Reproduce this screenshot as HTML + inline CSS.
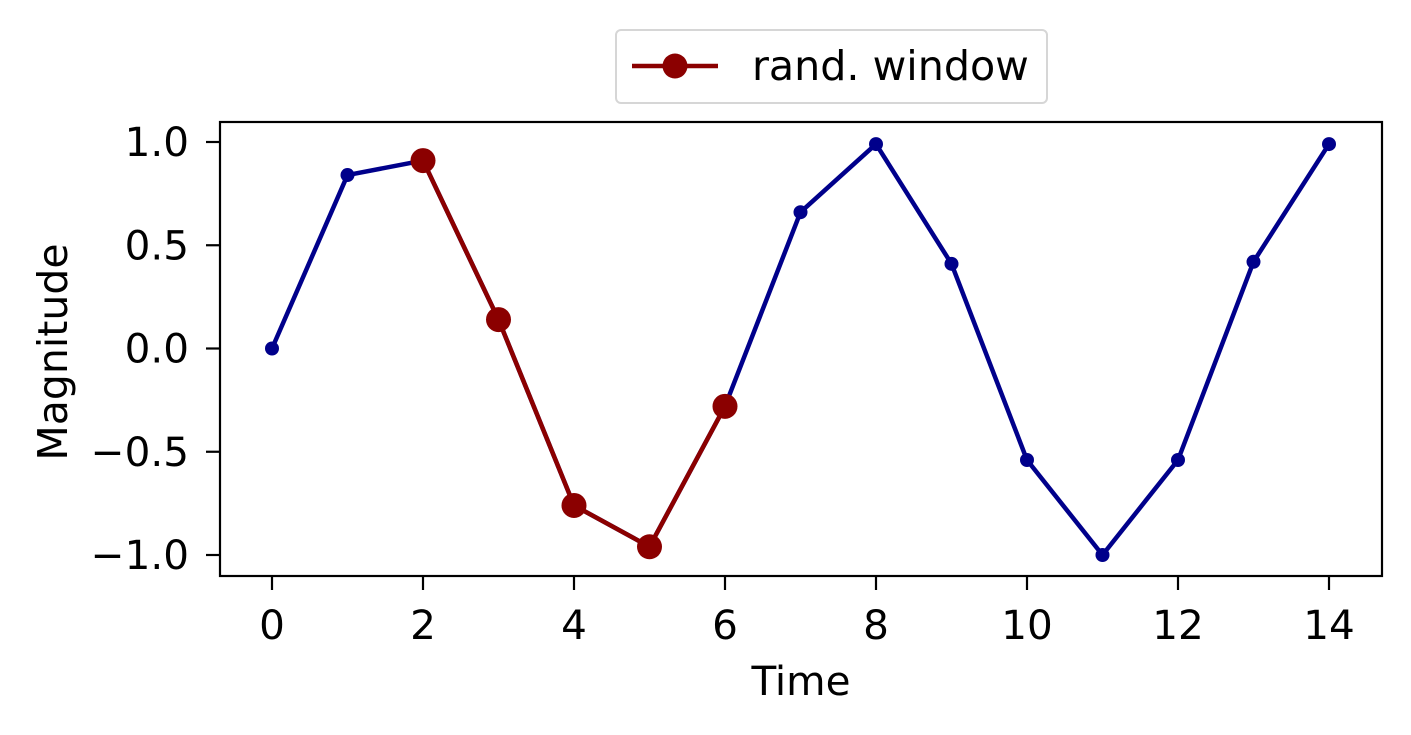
<!DOCTYPE html>
<html><head><meta charset="utf-8"><style>
html,body{margin:0;padding:0;background:#fff;}
svg{display:block;font-family:"DejaVu Sans","Liberation Sans",sans-serif;}
</style></head><body>
<svg id="chart" width="1411" height="735" viewBox="0 0 1411 735">
</svg>
<script>
const times = [0,1,2,3,4,5,6,7,8,9,10,11,12,13,14];
const magnitude = [0,0.84,0.91,0.14,-0.76,-0.96,-0.28,0.66,0.99,0.41,-0.54,-1.0,-0.54,0.42,0.99];
const windowIdx = [2,3,4,5,6];
const xTicks = [0,2,4,6,8,10,12,14];
const yTicks = [1.0,0.5,0.0,-0.5,-1.0];
const yTickLabels = ["1.0","0.5","0.0","\u22120.5","\u22121.0"];

const svg = document.getElementById('chart');
const NS = 'http://www.w3.org/2000/svg';
const L=220,R=1382,T=122,B=576;
const x = v => 272 + v*75.5;
const y = v => 348.5 - v*206.5;
function mk(tag, attrs, parent){const e=document.createElementNS(NS,tag);for(const k in attrs)e.setAttribute(k,attrs[k]);(parent||svg).appendChild(e);return e;}

let frame = mk('rect',{x:L,y:T,width:R-L,height:B-T,fill:'none',stroke:'#000','stroke-width':2.2});



xTicks.forEach(t=>{
  const tk=mk('line',{x1:x(t),x2:x(t),y1:B,y2:B+14,stroke:'#000','stroke-width':2.2});
  
  
  const lb=mk('text',{x:x(t),y:B+63,'text-anchor':'middle','font-size':40.5});
  lb.textContent=t;
  
  
});
yTicks.forEach((t,i)=>{
  const tk=mk('line',{x1:L-14,x2:L,y1:y(t),y2:y(t),stroke:'#000','stroke-width':2.2});
  
  
  const lb=mk('text',{x:L-31,y:y(t)+14,'text-anchor':'end','font-size':40.5});
  lb.textContent=yTickLabels[i];
  
  
});
let xt=mk('text',{x:801,y:695,'text-anchor':'middle','font-size':40.5});xt.textContent='Time';


let yt=mk('text',{x:0,y:0,'text-anchor':'middle','font-size':41,transform:'translate(67,352) rotate(-90)'});yt.textContent='Magnitude';



let pl=mk('polyline',{points:times.map((t,i)=>x(t)+','+y(magnitude[i])).join(' '),fill:'none',stroke:'#00008b','stroke-width':4.5,'stroke-linejoin':'round'});


times.forEach((t,i)=>{
  const c=mk('circle',{cx:x(t),cy:y(magnitude[i]),r:7,fill:'#00008b'});
  
  
});
let wl=mk('polyline',{points:windowIdx.map(i=>x(times[i])+','+y(magnitude[i])).join(' '),fill:'none',stroke:'#8b0000','stroke-width':4.5,'stroke-linejoin':'round'});


windowIdx.forEach(i=>{
  const c=mk('circle',{cx:x(times[i]),cy:y(magnitude[i]),r:12.5,fill:'#8b0000'});
  
  
});

let lg=mk('g',{});


mk('rect',{x:616,y:30,width:431,height:73,rx:5,fill:'#fff',stroke:'#d6d6d6','stroke-width':2},lg);
mk('line',{x1:632,x2:718,y1:66,y2:66,stroke:'#8b0000','stroke-width':4.5},lg);
mk('circle',{cx:675,cy:66,r:12.5,fill:'#8b0000'},lg);
let lt=mk('text',{x:752,y:80,'font-size':41.2},lg);lt.textContent='rand. window';


</script>
</body></html>
